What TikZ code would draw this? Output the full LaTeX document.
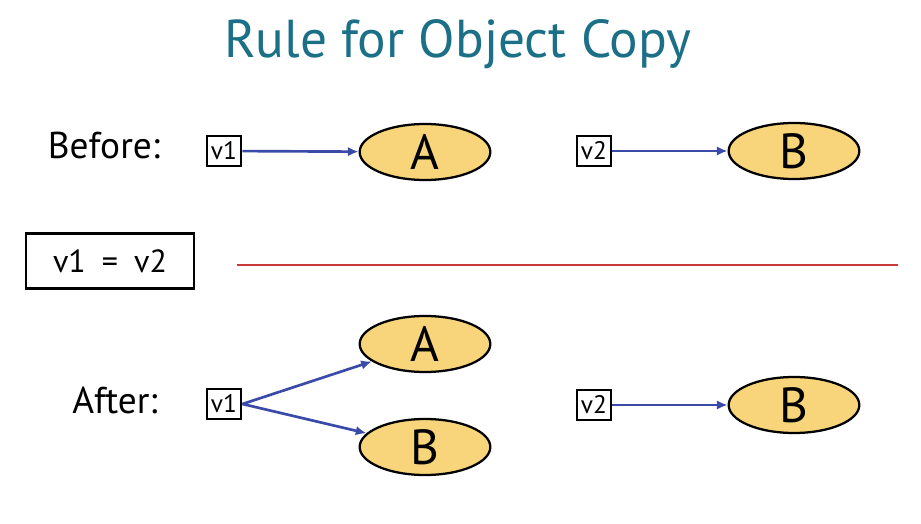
\documentclass[tikz,border=0pt]{standalone}
\usepackage{fontspec}
\setmainfont{PT Sans}
\usetikzlibrary{shapes.geometric,arrows.meta}
\definecolor{titlecol}{HTML}{1B6F87}
\definecolor{arrowcol}{HTML}{3A4AA8}
\definecolor{fillcol}{HTML}{F8D57A}
\definecolor{redline}{HTML}{C83A3A}
\begin{document}
\begin{tikzpicture}[x=0.75pt,y=-0.75pt,
  varbox/.style={draw=black,line width=1.7pt,minimum width=26pt,minimum height=23pt,inner sep=0pt,font=\fontsize{19}{19}\selectfont},
  obj/.style={ellipse,draw=black,fill=fillcol,line width=1.7pt,minimum width=98pt,minimum height=42pt,inner sep=0pt,font=\fontsize{37}{37}\selectfont},
  ref/.style={draw=arrowcol,line width=2pt,-{Latex[length=8pt,width=7pt]}},
  lbl/.style={font=\fontsize{28}{28}\selectfont}]
\useasboundingbox (0,0) rectangle (921,524);
\node[text=titlecol,font=\fontsize{40}{40}\selectfont] (title) at (458,44) {Rule for Object Copy};
% Before
\node[lbl] (before) at (104,146) {Before:};
\node[varbox] (v1a) at (224,151) {v1};
\node[obj] (Aa) at (425,152) {A};
\draw[ref] (v1a) -- (Aa);
\node[varbox] (v2a) at (594,151) {v2};
\node[obj] (Ba) at (794,151) {B};
\draw[ref] (v2a) -- (Ba);
% statement
\node[draw=black,line width=1.9pt,minimum width=126pt,minimum height=41pt,font=\fontsize{24}{24}\selectfont] (stmt) at (110,261) {v1\enspace=\enspace v2};
\coordinate (rl) at (237,265);
\coordinate (rr) at (898,265);
\draw[redline,line width=2pt] (rl) -- (rr);
% After
\node[lbl] (after) at (115,400) {After:};
\node[varbox] (v1b) at (224,404) {v1};
\node[obj] (Ab) at (425,344) {A};
\node[obj] (Bb) at (425,447) {B};
\draw[ref] (v1b.east) -- (Ab);
\draw[ref] (v1b.east) -- (Bb);
\node[varbox] (v2b) at (594,405) {v2};
\node[obj] (Bc) at (794,405) {B};
\draw[ref] (v2b) -- (Bc);
\end{tikzpicture}
\end{document}
